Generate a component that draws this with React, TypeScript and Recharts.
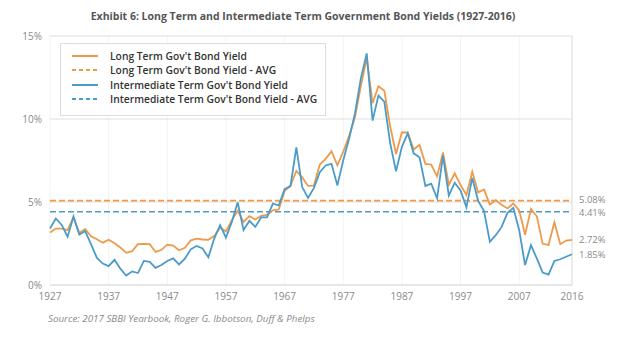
import {
  LineChart,
  Line,
  XAxis,
  YAxis,
  CartesianGrid,
  ReferenceLine,
  LabelList,
} from 'recharts';

const years = [
  1927, 1928, 1929, 1930, 1931, 1932, 1933, 1934, 1935, 1936,
  1937, 1938, 1939, 1940, 1941, 1942, 1943, 1944, 1945, 1946,
  1947, 1948, 1949, 1950, 1951, 1952, 1953, 1954, 1955, 1956,
  1957, 1958, 1959, 1960, 1961, 1962, 1963, 1964, 1965, 1966,
  1967, 1968, 1969, 1970, 1971, 1972, 1973, 1974, 1975, 1976,
  1977, 1978, 1979, 1980, 1981, 1982, 1983, 1984, 1985, 1986,
  1987, 1988, 1989, 1990, 1991, 1992, 1993, 1994, 1995, 1996,
  1997, 1998, 1999, 2000, 2001, 2002, 2003, 2004, 2005, 2006,
  2007, 2008, 2009, 2010, 2011, 2012, 2013, 2014, 2015, 2016,
];

const longTermYield = [
  3.16, 3.4, 3.4, 3.3, 4.07, 3.15, 3.36, 2.93, 2.76, 2.55,
  2.73, 2.52, 2.26, 1.94, 2.04, 2.46, 2.48, 2.46, 1.99, 2.12,
  2.43, 2.37, 2.09, 2.24, 2.69, 2.79, 2.74, 2.72, 2.95, 3.45,
  3.23, 3.9, 4.47, 3.8, 4.15, 3.95, 4.17, 4.23, 4.5, 4.55,
  5.65, 5.98, 6.87, 6.48, 5.97, 5.99, 7.26, 7.6, 8.05, 7.21,
  8.03, 8.98, 10.12, 11.99, 13.65, 10.95, 11.97, 11.7, 9.56, 7.89,
  9.2, 9.18, 8.16, 8.44, 7.3, 7.26, 6.54, 7.99, 6.03, 6.73,
  6.02, 5.42, 6.82, 5.58, 5.75, 4.84, 5.11, 4.84, 4.61, 4.91,
  4.5, 3.03, 4.58, 4.14, 2.48, 2.41, 3.78, 2.46, 2.68, 2.72,
];

const intermediateYield = [
  3.4, 4.01, 3.62, 2.91, 4.12, 3.04, 3.25, 2.45, 1.63, 1.29,
  1.14, 1.52, 0.98, 0.57, 0.82, 0.72, 1.45, 1.4, 1.03, 1.2,
  1.45, 1.6, 1.24, 1.58, 2.15, 2.35, 2.2, 1.67, 2.8, 3.6,
  2.85, 3.8, 4.98, 3.31, 3.87, 3.5, 4.07, 4.07, 4.9, 4.79,
  5.77, 5.96, 8.29, 5.9, 5.25, 5.85, 6.79, 7.2, 7.3, 6.0,
  7.51, 8.83, 10.33, 12.45, 13.95, 9.9, 11.41, 11.04, 8.55, 6.85,
  8.32, 9.14, 7.93, 7.7, 5.97, 6.11, 5.22, 7.8, 5.38, 6.16,
  5.7, 4.68, 6.45, 5.07, 4.45, 2.6, 3.0, 3.5, 4.35, 4.65,
  3.3, 1.2, 2.4, 1.6, 0.75, 0.62, 1.45, 1.55, 1.7, 1.85,
];

const longTermAvg = 5.08;
const intermediateAvg = 4.41;

const xTicks = [1927, 1937, 1947, 1957, 1967, 1977, 1987, 1997, 2007, 2016];
const yTicks = [0, 5, 10, 15];

const ORANGE = '#ee9a4b';
const BLUE = '#4a9bc9';
const FONT = '"Open Sans", Arial, sans-serif';
const GREY_TEXT = '#8a8a8a';

const chartData = years.map((year, i) => ({
  year,
  longTerm: longTermYield[i],
  intermediate: intermediateYield[i],
}));

const legendItems = [
  { label: "Long Term Gov't Bond Yield", color: ORANGE, dashed: false },
  { label: "Long Term Gov't Bond Yield - AVG", color: ORANGE, dashed: true },
  { label: "Intermediate Term Gov't Bond Yield", color: BLUE, dashed: false },
  { label: "Intermediate Term Gov't Bond Yield - AVG", color: BLUE, dashed: true },
];

function EndLabel(props: any) {
  const { x, y, index, value } = props;
  if (index !== years.length - 1) return null;
  return (
    <text x={x + 7} y={y} dy={3.5} fill={GREY_TEXT} fontSize={9.5} fontFamily={FONT}>
      {Number(value).toFixed(2)}%
    </text>
  );
}

function AvgLabel(props: any) {
  const { viewBox, value, shift } = props;
  if (!viewBox) return null;
  return (
    <text
      x={viewBox.x + viewBox.width + 7}
      y={viewBox.y + shift}
      dy={3.5}
      fill={GREY_TEXT}
      fontSize={9.5}
      fontFamily={FONT}
    >
      {value}
    </text>
  );
}

function LegendBox() {
  return (
    <div
      style={{
        position: 'absolute',
        left: 60,
        top: 43,
        width: 264,
        height: 66,
        border: '1px solid #dcdcdc',
        background: '#fff',
        paddingTop: 5,
        boxSizing: 'content-box',
      }}
    >
      {legendItems.map((item) => (
        <div key={item.label} style={{ display: 'flex', alignItems: 'center', height: 14.3 }}>
          <svg width={26} height={4} style={{ marginLeft: 11 }}>
            <line
              x1={0}
              y1={2}
              x2={26}
              y2={2}
              stroke={item.color}
              strokeWidth={2}
              strokeDasharray={item.dashed ? '4 3' : undefined}
            />
          </svg>
          <span
            style={{
              marginLeft: 12,
              fontFamily: FONT,
              fontSize: 10.3,
              fontWeight: 600,
              color: '#333',
              whiteSpace: 'nowrap',
            }}
          >
            {item.label}
          </span>
        </div>
      ))}
    </div>
  );
}

export default function App() {
  return (
    <div style={{ position: 'absolute', left: 0, top: 0, width: 628, height: 339, background: '#fff' }}>
      <div
        style={{
          position: 'absolute',
          left: 0,
          width: 606,
          top: 9,
          textAlign: 'center',
          fontFamily: FONT,
          fontSize: 10.5,
          fontWeight: 700,
          color: '#555',
        }}
      >
        Exhibit 6: Long Term and Intermediate Term Government Bond Yields (1927-2016)
      </div>

      <LineChart
        width={628}
        height={339}
        data={chartData}
        margin={{ top: 36, right: 56, bottom: 34, left: 0 }}
      >
        <CartesianGrid horizontal={false} stroke="#f3f3f3" />
        <CartesianGrid vertical={false} stroke="#dedede" />
        <XAxis
          dataKey="year"
          type="number"
          domain={[1927, 2016]}
          ticks={xTicks}
          height={20}
          axisLine={{ stroke: '#dedede' }}
          tickLine={false}
          tick={{ fontSize: 10, fill: GREY_TEXT, fontFamily: FONT }}
        />
        <YAxis
          domain={[0, 15]}
          ticks={yTicks}
          width={50}
          axisLine={false}
          tickLine={false}
          tickFormatter={(v) => `${v}%`}
          tick={{ fontSize: 10, fill: GREY_TEXT, fontFamily: FONT }}
        />
        <ReferenceLine x={2016} stroke="#dedede" />

        {/* Average lines */}
        <ReferenceLine
          y={longTermAvg}
          stroke={ORANGE}
          strokeWidth={1.6}
          strokeDasharray="6 3"
          label={<AvgLabel value={`${longTermAvg.toFixed(2)}%`} shift={-1.5} />}
        />
        <ReferenceLine
          y={intermediateAvg}
          stroke={BLUE}
          strokeWidth={1.6}
          strokeDasharray="6 3"
          label={<AvgLabel value={`${intermediateAvg.toFixed(2)}%`} shift={1} />}
        />

        <Line
          type="linear"
          dataKey="longTerm"
          stroke={ORANGE}
          strokeWidth={1.8}
          dot={false}
          isAnimationActive={false}
        >
          <LabelList dataKey="longTerm" content={EndLabel} />
        </Line>
        <Line
          type="linear"
          dataKey="intermediate"
          stroke={BLUE}
          strokeWidth={1.8}
          dot={false}
          isAnimationActive={false}
        >
          <LabelList dataKey="intermediate" content={EndLabel} />
        </Line>
      </LineChart>

      <LegendBox />

      <div
        style={{
          position: 'absolute',
          left: 48,
          top: 312,
          fontFamily: FONT,
          fontSize: 9.8,
          fontStyle: 'italic',
          color: GREY_TEXT,
        }}
      >
        Source: 2017 SBBI Yearbook, Roger G. Ibbotson, Duff &amp; Phelps
      </div>
    </div>
  );
}
